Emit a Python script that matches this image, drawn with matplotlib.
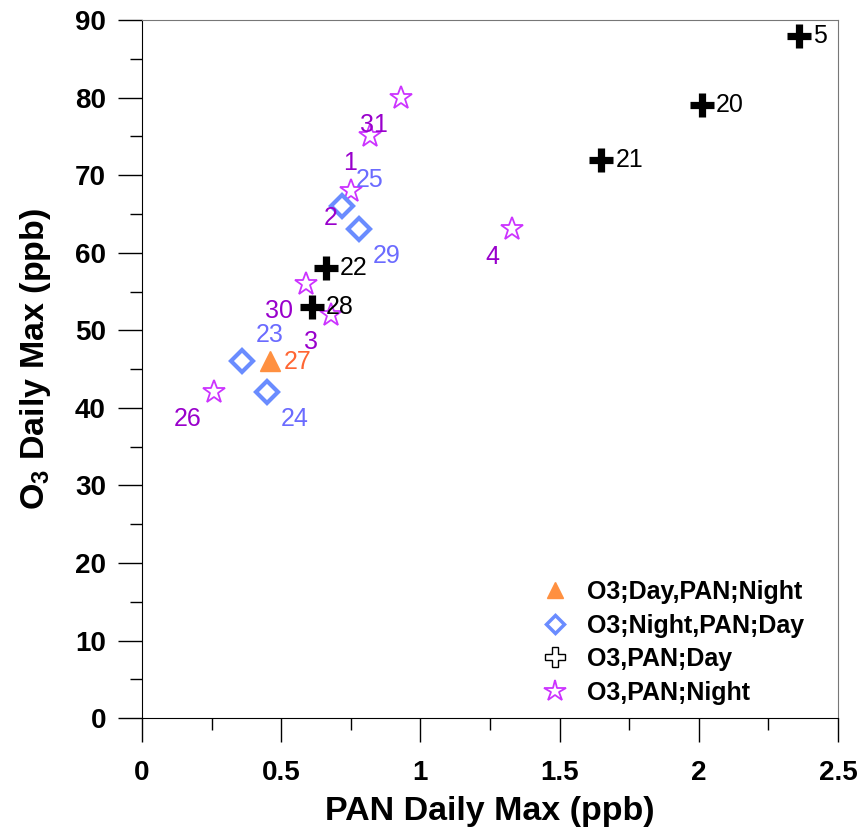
import matplotlib
matplotlib.use("Agg")
import matplotlib.pyplot as plt
from matplotlib.lines import Line2D
from matplotlib.ticker import MultipleLocator, FormatStrFormatter

plt.rcParams['font.family'] = ['Liberation Sans', 'DejaVu Sans']
plt.rcParams['mathtext.fontset'] = 'custom'
plt.rcParams['mathtext.bf'] = 'Liberation Sans:bold'
plt.rcParams['mathtext.rm'] = 'Liberation Sans:bold'

# O3;Day,PAN;Night
tri_pan = [0.46]
tri_o3 = [46]
tri_lbl = ["27"]

# O3;Night,PAN;Day
dia_pan = [0.72, 0.78, 0.36, 0.45]
dia_o3 = [66, 63, 46, 42]
dia_lbl = ["25", "29", "23", "24"]

# O3,PAN;Day
crs_pan = [2.36, 2.01, 1.65, 0.66, 0.61]
crs_o3 = [88, 79, 72, 58, 53]
crs_lbl = ["5", "20", "21", "22", "28"]

# O3,PAN;Night
star_pan = [0.93, 0.82, 0.75, 1.33, 0.59, 0.68, 0.26]
star_o3 = [80, 75, 68, 63, 56, 52, 42]
star_lbl = ["31", "1", "2", "4", "30", "3", "26"]

c_tri = '#FF9040'
c_tri_txt = '#FF6633'
c_dia = '#6A8CFF'
c_dia_txt = '#6B6BFF'
c_star = '#CC33FF'
c_star_txt = '#9900CC'

fig = plt.figure(figsize=(8.66, 8.36), dpi=100)
ax = fig.add_axes([0.164, 0.141, 0.8037, 0.835])

ax.plot(star_pan, star_o3, ls='none', marker='*', ms=17, mfc='white', mec=c_star, mew=1.3, zorder=3)
ax.plot(dia_pan, dia_o3, ls='none', marker='D', ms=11, mfc='white', mec=c_dia, mew=3, zorder=3)
ax.plot(tri_pan, tri_o3, ls='none', marker='^', ms=14, mfc=c_tri, mec=c_tri, zorder=3)
ax.plot(crs_pan, crs_o3, ls='none', marker='+', ms=17, mec='black', mew=5.2, zorder=4)

# point labels
for x, y, t in zip(crs_pan, crs_o3, crs_lbl):
    ax.annotate(t, (x, y), xytext=(10, 0), textcoords='offset points',
                ha='left', va='center', fontsize=18, color='black')
for x, y, t in zip(star_pan, star_o3, star_lbl):
    ax.annotate(t, (x, y), xytext=(-9.5, -19.5), textcoords='offset points',
                ha='right', va='center', fontsize=18, color=c_star_txt)
dia_off = [(9.5, 19), (9.5, -19), (9.5, 19), (9.5, -19)]
for (x, y, t), off in zip(zip(dia_pan, dia_o3, dia_lbl), dia_off):
    ax.annotate(t, (x, y), xytext=off, textcoords='offset points',
                ha='left', va='center', fontsize=18, color=c_dia_txt)
for x, y, t in zip(tri_pan, tri_o3, tri_lbl):
    ax.annotate(t, (x, y), xytext=(9.5, -0.5), textcoords='offset points',
                ha='left', va='center', fontsize=18, color=c_tri_txt)

ax.set_xlim(0, 2.5)
ax.set_ylim(0, 90)
ax.xaxis.set_major_locator(MultipleLocator(0.5))
ax.xaxis.set_minor_locator(MultipleLocator(0.25))
ax.yaxis.set_major_locator(MultipleLocator(10))
ax.yaxis.set_minor_locator(MultipleLocator(5))
ax.xaxis.set_major_formatter(FormatStrFormatter('%g'))
ax.tick_params(which='major', direction='out', length=17, width=1, labelsize=20)
ax.tick_params(which='minor', direction='out', length=8.5, width=1)
ax.tick_params(axis='x', which='major', pad=13)
ax.tick_params(axis='y', which='major', pad=9)
ax.tick_params(top=False, right=False)
for lab in ax.get_xticklabels() + ax.get_yticklabels():
    lab.set_fontweight('bold')
for s in ['top', 'right']:
    ax.spines[s].set_color('#777777')
ax.spines['left'].set_color('black')
ax.spines['bottom'].set_color('black')

ax.set_xlabel('PAN Daily Max (ppb)', fontsize=24.5, fontweight='bold', labelpad=7)
ax.set_ylabel(r'O$_\mathbf{3}$ Daily Max (ppb)', fontsize=24.5, fontweight='bold', labelpad=15.5)
ax.yaxis.label.set_y(0.515)

handles = [
    Line2D([], [], ls='none', marker='^', ms=12, mfc=c_tri, mec=c_tri),
    Line2D([], [], ls='none', marker='D', ms=9, mfc='white', mec=c_dia, mew=2.5),
    Line2D([], [], ls='none', marker='P', ms=15, mfc='white', mec='black', mew=1),
    Line2D([], [], ls='none', marker='*', ms=16, mfc='white', mec=c_star, mew=1.3),
]
labels = ['O3;Day,PAN;Night', 'O3;Night,PAN;Day', 'O3,PAN;Day', 'O3,PAN;Night']
ax.legend(handles, labels, loc='lower right', frameon=False,
          prop={'size': 18, 'weight': 'bold'}, handletextpad=0.5, handlelength=1.5,
          labelspacing=0.38, borderaxespad=0, bbox_to_anchor=(0.965, 0.005))

fig.savefig('out.png', dpi=100)
